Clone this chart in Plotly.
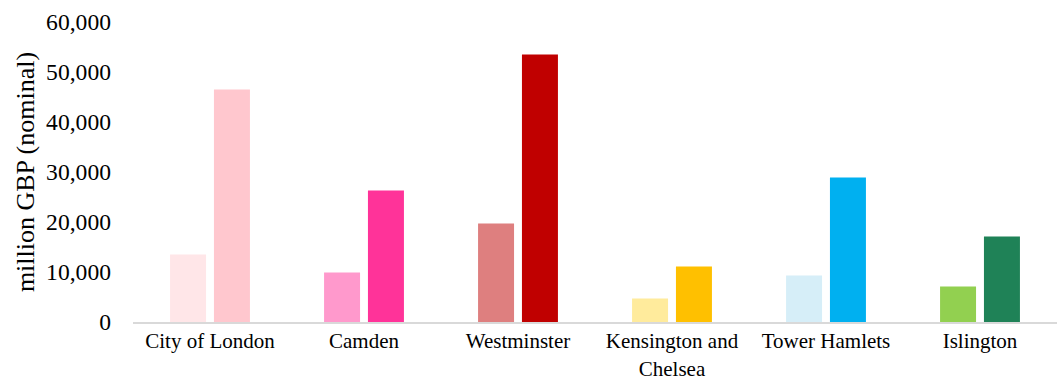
import plotly.graph_objects as go

boroughs = ["City of London", "Camden", "Westminster",
            "Kensington and<br>Chelsea", "Tower Hamlets", "Islington"]
first_values = [13500, 9900, 19700, 4700, 9300, 7100]
second_values = [46500, 26300, 53500, 11100, 28900, 17100]
first_colors = ["#FFE6E8", "#FF99CC", "#DE7F7F", "#FFEB9C", "#D6EEF8", "#92D050"]
second_colors = ["#FFC7CE", "#FF3399", "#C00000", "#FFC000", "#00B0F0", "#1F8257"]
y_ticks = [0, 10000, 20000, 30000, 40000, 50000, 60000]

fig = go.Figure()
fig.add_trace(go.Bar(x=boroughs, y=first_values, marker_color=first_colors,
                     marker_line_width=0, showlegend=False))
fig.add_trace(go.Bar(x=boroughs, y=second_values, marker_color=second_colors,
                     marker_line_width=0, showlegend=False))

fig.update_layout(
    width=1058, height=379,
    margin=dict(l=133, r=1, t=22, b=57),
    barmode="group", bargap=0.43, bargroupgap=0.18,
    plot_bgcolor="white", paper_bgcolor="white",
    font=dict(family="Liberation Serif", size=21, color="#000000"),
    xaxis=dict(showline=True, linecolor="#D9D9D9", linewidth=2,
               ticks="", tickfont=dict(size=21), showgrid=False,
               ticklabelstandoff=-1, automargin=False),
    yaxis=dict(range=[0, 60000], tickvals=y_ticks, tickformat=",d",
               showgrid=False, zeroline=False, showline=False, ticks="",
               ticklabelstandoff=21, tickfont=dict(size=23.6),
               automargin=False,
               title=dict(text="million GBP (nominal)", standoff=4,
                          font=dict(size=26))),
)

fig.write_html("out.html")
